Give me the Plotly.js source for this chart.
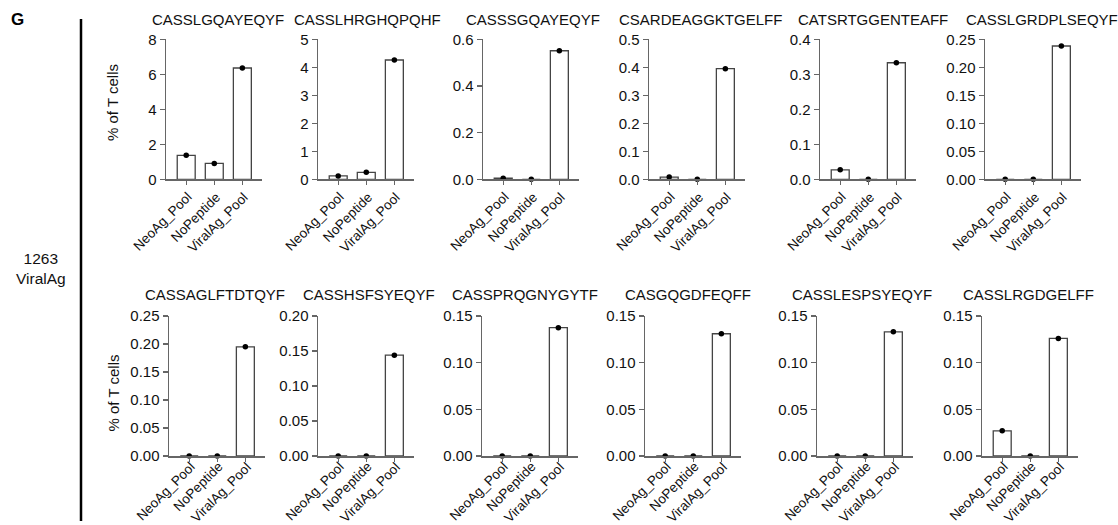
<!DOCTYPE html>
<html><head><meta charset="utf-8">
<script src="https://cdn.plot.ly/plotly-3.0.1.min.js"></script>
<style>html,body{margin:0;padding:0;background:#fff}#chart{width:1118px;height:525px}</style>
</head><body><div id="chart"></div>
<script>
const categories = ['NeoAg_Pool', 'NoPeptide', 'ViralAg_Pool'];
const clonotypes = ['CASSLGQAYEQYF', 'CASSLHRGHQPQHF', 'CASSSGQAYEQYF', 'CSARDEAGGKTGELFF', 'CATSRTGGENTEAFF', 'CASSLGRDPLSEQYF',
                    'CASSAGLFTDTQYF', 'CASSHSFSYEQYF', 'CASSPRQGNYGYTF', 'CASGQGDFEQFF', 'CASSLESPSYEQYF', 'CASSLRGDGELFF'];
const neoAgPool   = [1.37, 0.12, 0.005, 0.008, 0.027, 0, 0, 0, 0, 0, 0, 0.027];
const noPeptide   = [0.91, 0.25, 0, 0, 0, 0, 0, 0, 0, 0, 0, 0];
const viralAgPool = [6.36, 4.26, 0.551, 0.395, 0.333, 0.238, 0.195, 0.144, 0.1375, 0.131, 0.133, 0.126];
const yMax  = [8, 5, 0.6, 0.5, 0.4, 0.25, 0.25, 0.20, 0.15, 0.15, 0.15, 0.15];
const yStep = [2, 1, 0.2, 0.1, 0.1, 0.05, 0.05, 0.05, 0.05, 0.05, 0.05, 0.05];
const yTickDecimals = [0, 0, 1, 1, 1, 2, 2, 2, 2, 2, 2, 2];
const yAxisTitle = '% of T cells';
const sampleLabel = '1263<br>ViralAg';
const panelLetter = 'G';

// ---- layout geometry (pixels) ----
const W = 1118, H = 525;
const axisLeft = [166, 318, 483, 649, 820, 985, 169, 318, 482, 645, 817, 982];
const titleCX  = [217.7, 367.5, 533, 700.8, 872.5, 1042, 214.7, 369, 525, 688, 862, 1028.8];
const plotW = 96, plotH = 140;
const rowTop = [39.3, 316];
const titleY = [19.5, 294];
const labelDrop = [9, 2];
const FONT = 'Liberation Sans, Arial, sans-serif';
const AX = '#666';

const data = [];
const layout = {
  width: W, height: H,
  margin: {l: 0, r: 0, t: 0, b: 0},
  paper_bgcolor: '#fff', plot_bgcolor: '#fff',
  showlegend: false,
  font: {family: FONT, size: 15, color: '#111'},
  annotations: [], shapes: []
};

for (let i = 0; i < clonotypes.length; i++) {
  const n = i + 1;
  const sfx = n === 1 ? '' : String(n);
  const xa = 'x' + sfx, ya = 'y' + sfx;
  const vals = [neoAgPool[i], noPeptide[i], viralAgPool[i]];
  data.push({type: 'bar', x: categories, y: vals, xaxis: xa, yaxis: ya, width: 0.64,
             marker: {color: '#fff', line: {color: '#444', width: 1.3}}, hoverinfo: 'x+y'});
  data.push({type: 'scatter', mode: 'markers', x: categories, y: vals, xaxis: xa, yaxis: ya,
             cliponaxis: false, marker: {color: '#000', size: 5.5}, hoverinfo: 'skip'});
  const row = i < 6 ? 0 : 1;
  const L = axisLeft[i], T = rowTop[row];
  const yBottom = (H - T - plotH) / H;
  const nt = Math.round(yMax[i] / yStep[i]);
  const tv = [], tt = [];
  for (let k = 0; k <= nt; k++) { const v = +(k * yStep[i]).toFixed(6); tv.push(v); tt.push(v.toFixed(yTickDecimals[i])); }
  layout['xaxis' + sfx] = {
    domain: [L / W, (L + plotW) / W], anchor: ya, range: [-0.72, 2.7], type: 'category',
    showline: true, linecolor: AX, linewidth: 1.5, ticks: 'outside', ticklen: 4, tickwidth: 1.2, tickcolor: AX,
    showticklabels: false, showgrid: false, zeroline: false, fixedrange: true
  };
  layout['yaxis' + sfx] = {
    domain: [yBottom, (H - T) / H], anchor: xa, range: [0, yMax[i]],
    tickmode: 'array', tickvals: tv, ticktext: tt,
    showline: true, linecolor: AX, linewidth: 1.5, ticks: 'outside', ticklen: 5, tickwidth: 1.2, tickcolor: AX,
    showgrid: false, zeroline: false, fixedrange: true,
    tickfont: {family: FONT, size: 15, color: '#111'}
  };
  // rotated category labels (45°), ending just below each tick
  categories.forEach(c => layout.annotations.push({text: c, xref: xa, yref: 'paper', x: c, y: yBottom,
    xshift: 10, yshift: -labelDrop[row], textangle: -45, xanchor: 'right', yanchor: 'top', showarrow: false, borderpad: 0,
    font: {family: FONT, size: 13.5, color: '#111'}}));
  layout.annotations.push({text: clonotypes[i], xref: 'paper', yref: 'paper',
    x: titleCX[i] / W, y: (H - titleY[row]) / H, xanchor: 'center', yanchor: 'middle',
    showarrow: false, font: {family: FONT, size: 15, color: '#111'}});
}

[102.5, 393].forEach(yc => layout.annotations.push({text: yAxisTitle, textangle: -90, xref: 'paper', yref: 'paper',
  x: 112.5 / W, y: (H - yc) / H, xanchor: 'center', yanchor: 'middle', showarrow: false,
  font: {family: FONT, size: 15, color: '#111'}}));

layout.annotations.push({text: '<b>' + panelLetter + '</b>', xref: 'paper', yref: 'paper', x: 9 / W, y: (H - 20) / H,
  xanchor: 'left', yanchor: 'middle', showarrow: false, font: {family: FONT, size: 17, color: '#000'}});
layout.annotations.push({text: sampleLabel, xref: 'paper', yref: 'paper', x: 40.5 / W, y: (H - 268) / H,
  xanchor: 'center', yanchor: 'middle', showarrow: false, font: {family: FONT, size: 15.5, color: '#111'}});
layout.shapes.push({type: 'line', xref: 'paper', yref: 'paper', x0: 81 / W, x1: 81 / W, y0: (H - 521) / H, y1: (H - 19) / H,
  line: {color: '#000', width: 2.5}});

Plotly.newPlot('chart', data, layout, {displayModeBar: false, staticPlot: true});
</script></body></html>
